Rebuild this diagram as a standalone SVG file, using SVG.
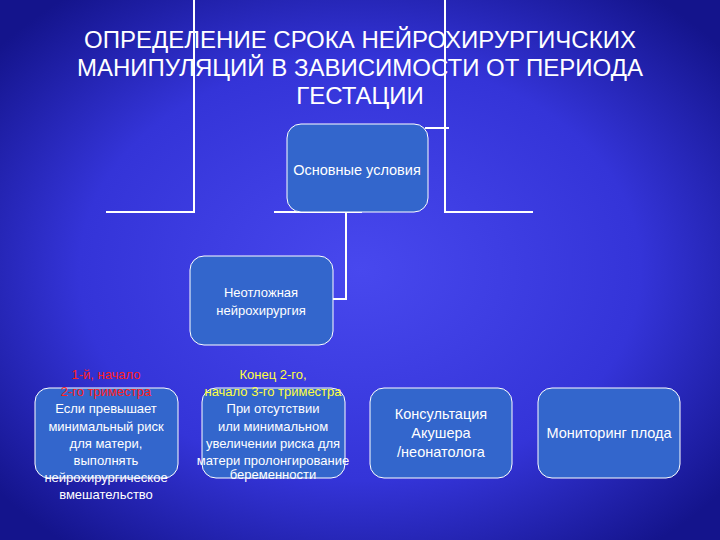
<svg xmlns="http://www.w3.org/2000/svg" width="720" height="540" viewBox="0 0 720 540">
<defs>
<radialGradient id="bg" cx="50%" cy="50%" r="65%">
<stop offset="0" stop-color="#4848ee"/>
<stop offset="0.6" stop-color="#3434d8"/>
<stop offset="1" stop-color="#14148c"/>
</radialGradient>
</defs>
<style>
.box{fill:#3366cc;stroke:#ffffff;stroke-width:1}
.ln{stroke:#ffffff;stroke-width:2;fill:none}
text{font-family:"Liberation Sans",Arial,sans-serif;fill:#ffffff;text-anchor:middle}
.t{font-size:14.5px}
.s{font-size:13px}
</style>
<rect width="720" height="540" fill="url(#bg)"/>
<g id="title">
<text x="360" y="48" font-size="24">ОПРЕДЕЛЕНИЕ СРОКА НЕЙРОХИРУРГИЧСКИХ</text>
<text x="360" y="76" font-size="24">МАНИПУЛЯЦИЙ В ЗАВИСИМОСТИ ОТ ПЕРИОДА</text>
<text x="360" y="104" font-size="24">ГЕСТАЦИИ</text>
</g>
<g id="connectors">
<polyline class="ln" points="194,0 194,212 106,212"/>
<polyline class="ln" points="445,0 445,212 533,212"/>
<line class="ln" x1="425" y1="128" x2="449" y2="128"/>
<line class="ln" x1="274" y1="212" x2="362" y2="212"/>
<polyline class="ln" points="346,212 346,299 333,299"/>
</g>
<g id="main">
<rect class="box" x="287" y="124" width="141" height="88" rx="14"/>
<text class="t" x="357" y="175">Основные условия</text>
</g>
<g id="urgent">
<rect class="box" x="190" y="256" width="143" height="89" rx="14"/>
<text class="s" x="261" y="297">Неотложная</text>
<text class="s" x="261" y="315">нейрохирургия</text>
</g>
<g id="b1">
<rect class="box" x="35" y="388" width="143" height="90" rx="14"/>
<text class="s" x="106" y="379" style="fill:#ff2020">1-й, начало</text>
<text class="s" x="106" y="396" style="fill:#ff2020">2-го триместра</text>
<text class="s" x="106" y="413">Если превышает</text>
<text class="s" x="106" y="431">минимальный риск</text>
<text class="s" x="106" y="448">для матери,</text>
<text class="s" x="106" y="465">выполнять</text>
<text class="s" x="106" y="482">нейрохирургическое</text>
<text class="s" x="106" y="499">вмешательство</text>
</g>
<g id="b2">
<rect class="box" x="202" y="388" width="143" height="90" rx="14"/>
<text class="s" x="273" y="379" style="fill:#ffff40">Конец 2-го,</text>
<text class="s" x="273" y="396" style="fill:#ffff40">начало 3-го триместра</text>
<text class="s" x="273" y="413">При отсутствии</text>
<text class="s" x="273" y="431">или минимальном</text>
<text class="s" x="273" y="448">увеличении риска для</text>
<text class="s" x="273" y="465">матери пролонгирование</text>
<text class="s" x="273" y="479">беременности</text>
</g>
<g id="b3">
<rect class="box" x="370" y="388" width="142" height="90" rx="14"/>
<text class="t" x="441" y="419">Консультация</text>
<text class="t" x="441" y="438">Акушера</text>
<text class="t" x="441" y="457">/неонатолога</text>
</g>
<g id="b4">
<rect class="box" x="538" y="388" width="142" height="90" rx="14"/>
<text class="t" x="609" y="438">Мониторинг плода</text>
</g>
</svg>
